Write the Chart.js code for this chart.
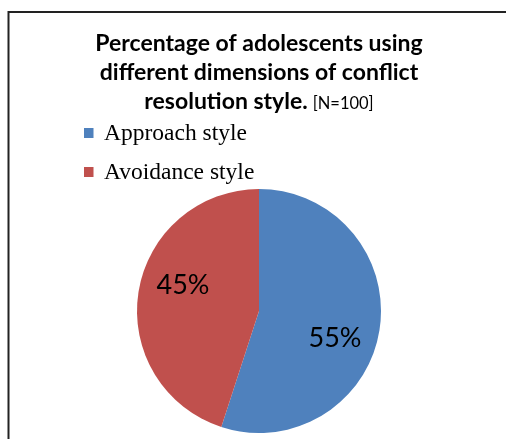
<!DOCTYPE html>
<html>
<head>
<meta charset="utf-8">
<script src="https://cdn.jsdelivr.net/npm/chart.js@4"></script>
<style>
  html, body { margin: 0; padding: 0; background: #fff; }
  #wrap { width: 506px; height: 439px; position: relative; }
</style>
</head>
<body>
<div id="wrap"><canvas id="styleChart"></canvas></div>
<script>
'use strict';

var styleLabels = ['Approach style', 'Avoidance style'];
var stylePercent = [55, 45];
var styleColors = ['#4f81bd', '#c0504d'];

var titleLines = ['Percentage of adolescents using', 'different dimensions of conflict', 'resolution style.'];
var titleNote = '[N=100]';

// frame: a top rule and a left rule, like a cropped chart box
var framePlugin = {
  id: 'frame',
  beforeDraw: function(chart) {
    var ctx = chart.ctx;
    ctx.save();
    ctx.fillStyle = '#fff';
    ctx.fillRect(0, 0, chart.width, chart.height);
    ctx.fillStyle = '#222';
    ctx.fillRect(8, 11, chart.width - 8, 2);
    ctx.fillRect(7.5, 11, 2, chart.height - 11);
    ctx.restore();
  }
};

var titlePlugin = {
  id: 'multiTitle',
  afterDraw: function(chart) {
    var ctx = chart.ctx;
    var cx = 259;
    var base = [51, 80, 109];
    ctx.save();
    ctx.fillStyle = '#000';
    ctx.textBaseline = 'alphabetic';
    ctx.textAlign = 'left';
    var bold = 'bold 23px Lato';
    var note = '16.5px Lato';
    for (var i = 0; i < titleLines.length; i++) {
      ctx.font = bold;
      var w = ctx.measureText(titleLines[i]).width;
      if (i === titleLines.length - 1) {
        var gap = 5;
        ctx.font = note;
        var nw = ctx.measureText(titleNote).width;
        var x0 = cx - (w + gap + nw) / 2;
        ctx.font = bold;
        ctx.fillText(titleLines[i], x0, base[i]);
        ctx.font = note;
        ctx.fillText(titleNote, x0 + w + gap, base[i]);
      } else {
        ctx.fillText(titleLines[i], cx - w / 2, base[i]);
      }
    }
    ctx.restore();
  }
};

var legendPlugin = {
  id: 'stackLegend',
  afterDraw: function(chart) {
    var ctx = chart.ctx;
    ctx.save();
    ctx.font = '23.5px "Liberation Serif"';
    ctx.textBaseline = 'alphabetic';
    styleLabels.forEach(function(label, i) {
      var y = 140 + i * 39;
      ctx.fillStyle = styleColors[i];
      ctx.fillRect(84, y - 12, 9.5, 10);
      ctx.fillStyle = '#000';
      ctx.fillText(label, 104, y);
    });
    ctx.restore();
  }
};

// percent labels inside each slice
var sliceLabelPlugin = {
  id: 'sliceLabels',
  afterDatasetsDraw: function(chart) {
    var ctx = chart.ctx;
    var meta = chart.getDatasetMeta(0);
    ctx.save();
    ctx.font = '27px Lato';
    ctx.fillStyle = '#000';
    ctx.textAlign = 'center';
    ctx.textBaseline = 'middle';
    meta.data.forEach(function(arc, i) {
      var p = arc.getProps(['x', 'y', 'startAngle', 'endAngle', 'outerRadius'], true);
      var mid = (p.startAngle + p.endAngle) / 2 + 0.18;
      var r = p.outerRadius * 0.66;
      ctx.fillText(stylePercent[i] + '%', p.x + Math.cos(mid) * r, p.y + Math.sin(mid) * r + 1);
    });
    ctx.restore();
  }
};

var ctx = document.getElementById('styleChart').getContext('2d');
var chart = new Chart(ctx, {
  type: 'pie',
  data: {
    labels: styleLabels,
    datasets: [{
      data: stylePercent,
      backgroundColor: styleColors,
      borderWidth: 0
    }]
  },
  options: {
    responsive: true,
    maintainAspectRatio: false,
    animation: false,
    layout: {
      padding: { top: 189, bottom: 6, left: 137, right: 125 }
    },
    plugins: {
      legend: { display: false },
      title: { display: false },
      tooltip: { enabled: false }
    }
  },
  plugins: [framePlugin, titlePlugin, legendPlugin, sliceLabelPlugin]
});
</script>
</body>
</html>
